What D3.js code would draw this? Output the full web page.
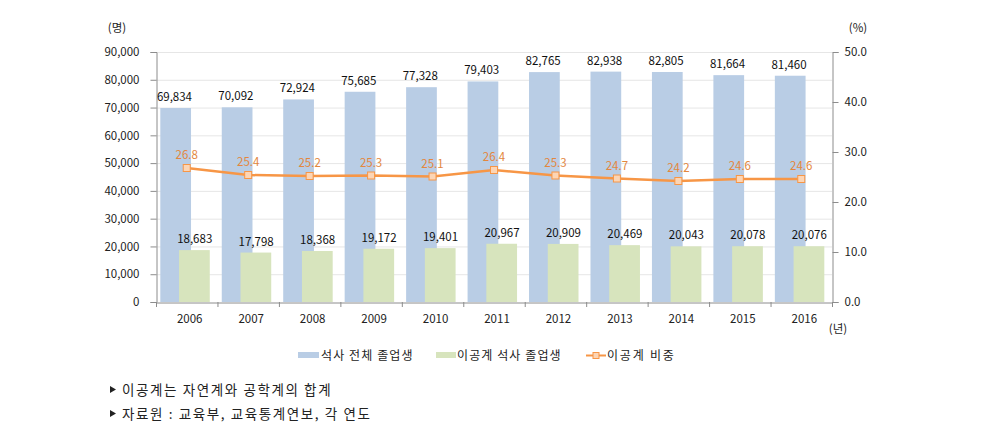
<!DOCTYPE html>
<html><head><meta charset="utf-8">
<script src="https://cdnjs.cloudflare.com/ajax/libs/d3/7.8.5/d3.min.js"></script>
<style>
body{margin:0;background:#fff;}
text{font-family:"Noto Sans CJK KR","Noto Sans",sans-serif;}
</style></head>
<body><svg id="c" width="996" height="437"></svg>
<script>
const years = ["2006","2007","2008","2009","2010","2011","2012","2013","2014","2015","2016"];
const totalGrads = [69834,70092,72924,75685,77328,79403,82765,82938,82805,81664,81460];
const sciGrads = [18683,17798,18368,19172,19401,20967,20909,20469,20043,20078,20076];
const sciShare = [26.8,25.4,25.2,25.3,25.1,26.4,25.3,24.7,24.2,24.6,24.6];
const leftTicks = [0,10000,20000,30000,40000,50000,60000,70000,80000,90000];
const rightTicks = [0,10,20,30,40,50];
const legendLabels = ["석사 전체 졸업생","이공계 석사 졸업생","이공계 비중"];
const notes = ["이공계는 자연계와 공학계의 합계","자료원 : 교육부, 교육통계연보, 각 연도"];

const svg = d3.select("#c");
const L=156, R=832, T=52, B=302;
const x = d3.scaleBand().domain(years).range([L,R]);
const y = d3.scaleLinear().domain([0,90000]).range([B,T]);
const y2 = d3.scaleLinear().domain([0,50]).range([B,T]);
const bw = x.bandwidth();
const fmt = d3.format(",");
const blue="#b9cde5", green="#d7e4bd", orange="#f79646";

// gridlines
svg.append("g").selectAll("line").data(leftTicks.filter(d=>d>0)).join("line")
  .attr("x1",L).attr("x2",R).attr("y1",d=>y(d)+0.5).attr("y2",d=>y(d)+0.5)
  .attr("stroke","#e6e6e6").attr("stroke-width",1);

// bars
svg.append("g").selectAll("rect").data(years).join("rect")
  .attr("x",(d)=>x(d)+bw*0.07).attr("width",bw*0.5)
  .attr("y",(d,i)=>y(totalGrads[i])).attr("height",(d,i)=>B-y(totalGrads[i]))
  .attr("fill",blue);
svg.append("g").selectAll("rect").data(years).join("rect")
  .attr("x",(d)=>x(d)+bw*0.375).attr("width",bw*0.5)
  .attr("y",(d,i)=>y(sciGrads[i])).attr("height",(d,i)=>B-y(sciGrads[i]))
  .attr("fill",green);

// axes
const axL = svg.append("g").attr("transform",`translate(${L+0.5},0)`)
  .call(d3.axisLeft(y).tickValues(leftTicks).tickFormat(fmt).tickSizeOuter(0).tickSize(6).tickPadding(11));
const axR = svg.append("g").attr("transform",`translate(${R+0.5},0)`)
  .call(d3.axisRight(y2).tickValues(rightTicks).tickFormat(d3.format(".1f")).tickSizeOuter(0).tickSize(6).tickPadding(6));
const axB = svg.append("g").attr("transform",`translate(0,${B+0.5})`)
  .call(d3.axisBottom(x).tickSize(0).tickPadding(12));
[axL,axR,axB].forEach(a=>{
  a.select(".domain").attr("stroke","#8c8c8c");
  a.selectAll(".tick line").attr("stroke","#8c8c8c");
  a.selectAll("text").attr("font-size","11.5px").attr("fill","#222")
   .style("font-family","'Noto Sans CJK KR',sans-serif");
});
svg.append("g").selectAll("line").data(years.concat(["end"])).join("line")
  .attr("x1",(d,i)=> i<years.length? x(d)+0.5 : R+0.5)
  .attr("x2",(d,i)=> i<years.length? x(d)+0.5 : R+0.5)
  .attr("y1",B).attr("y2",B+5).attr("stroke","#8c8c8c");
axB.selectAll("text").attr("dx","3");

// line
const line = d3.line().x((d,i)=>x(years[i])+bw/2).y(d=>y2(d));
svg.append("path").datum(sciShare).attr("d",line).attr("fill","none")
  .attr("stroke",orange).attr("stroke-width",2.5);
svg.append("g").selectAll("rect").data(sciShare).join("rect")
  .attr("x",(d,i)=>x(years[i])+bw/2-3.5).attr("y",d=>y2(d)-3.5)
  .attr("width",7).attr("height",7).attr("fill","#fcd5b5").attr("stroke",orange).attr("stroke-width",1);

// labels
svg.append("g").selectAll("text").data(totalGrads).join("text")
  .attr("x",(d,i)=>x(years[i])+bw*0.3).attr("y",d=>y(d)-7)
  .attr("text-anchor","middle").attr("font-size","11.5px").attr("fill","#111").text(d=>fmt(d));
svg.append("g").selectAll("text").data(sciGrads).join("text")
  .attr("x",(d,i)=>x(years[i])+bw*0.63).attr("y",d=>y(d)-7)
  .attr("text-anchor","middle").attr("font-size","11.5px").attr("fill","#111").text(d=>fmt(d));
svg.append("g").selectAll("text").data(sciShare).join("text")
  .attr("x",(d,i)=>x(years[i])+bw/2).attr("y",d=>y2(d)-9)
  .attr("text-anchor","middle").attr("font-size","11.5px").attr("fill","#e3873e").text(d=>d.toFixed(1));

// unit labels
svg.append("text").attr("x",117).attr("y",32).attr("text-anchor","middle").attr("font-size","11.5px").attr("fill","#222").text("(명)");
svg.append("text").attr("x",858).attr("y",32).attr("text-anchor","middle").attr("font-size","11.5px").attr("fill","#222").text("(%)");
svg.append("text").attr("x",838).attr("y",333).attr("text-anchor","middle").attr("font-size","11.5px").attr("fill","#222").text("(년)");

// legend
const lg = svg.append("g");
const lgStyle = t => t.attr("font-size","12px").attr("letter-spacing","1.1px").attr("fill","#222").attr("y",360);
lg.append("rect").attr("x",298).attr("y",352).attr("width",21).attr("height",6).attr("fill",blue);
lg.append("text").attr("x",321).call(lgStyle).text(legendLabels[0]);
lg.append("rect").attr("x",436).attr("y",352).attr("width",20).attr("height",6).attr("fill",green);
lg.append("text").attr("x",457).call(lgStyle).text(legendLabels[1]);
lg.append("line").attr("x1",586).attr("x2",606).attr("y1",355.5).attr("y2",355.5).attr("stroke",orange).attr("stroke-width",2);
lg.append("rect").attr("x",593).attr("y",352.5).attr("width",6).attr("height",6).attr("fill","#fcd5b5").attr("stroke",orange);
lg.append("text").attr("x",607).call(lgStyle).attr("letter-spacing","1.8px").text(legendLabels[2]);

// notes
notes.forEach((n,i)=>{
  const yy = 395 + i*24;
  svg.append("path").attr("d",`M110,${yy-9}L116,${yy-5.5}L110,${yy-2}Z`).attr("fill","#222");
  svg.append("text").attr("x",122).attr("y",yy).attr("font-size","13.5px").attr("letter-spacing","1.6px").attr("fill","#222").text(n);
});
</script></body></html>
